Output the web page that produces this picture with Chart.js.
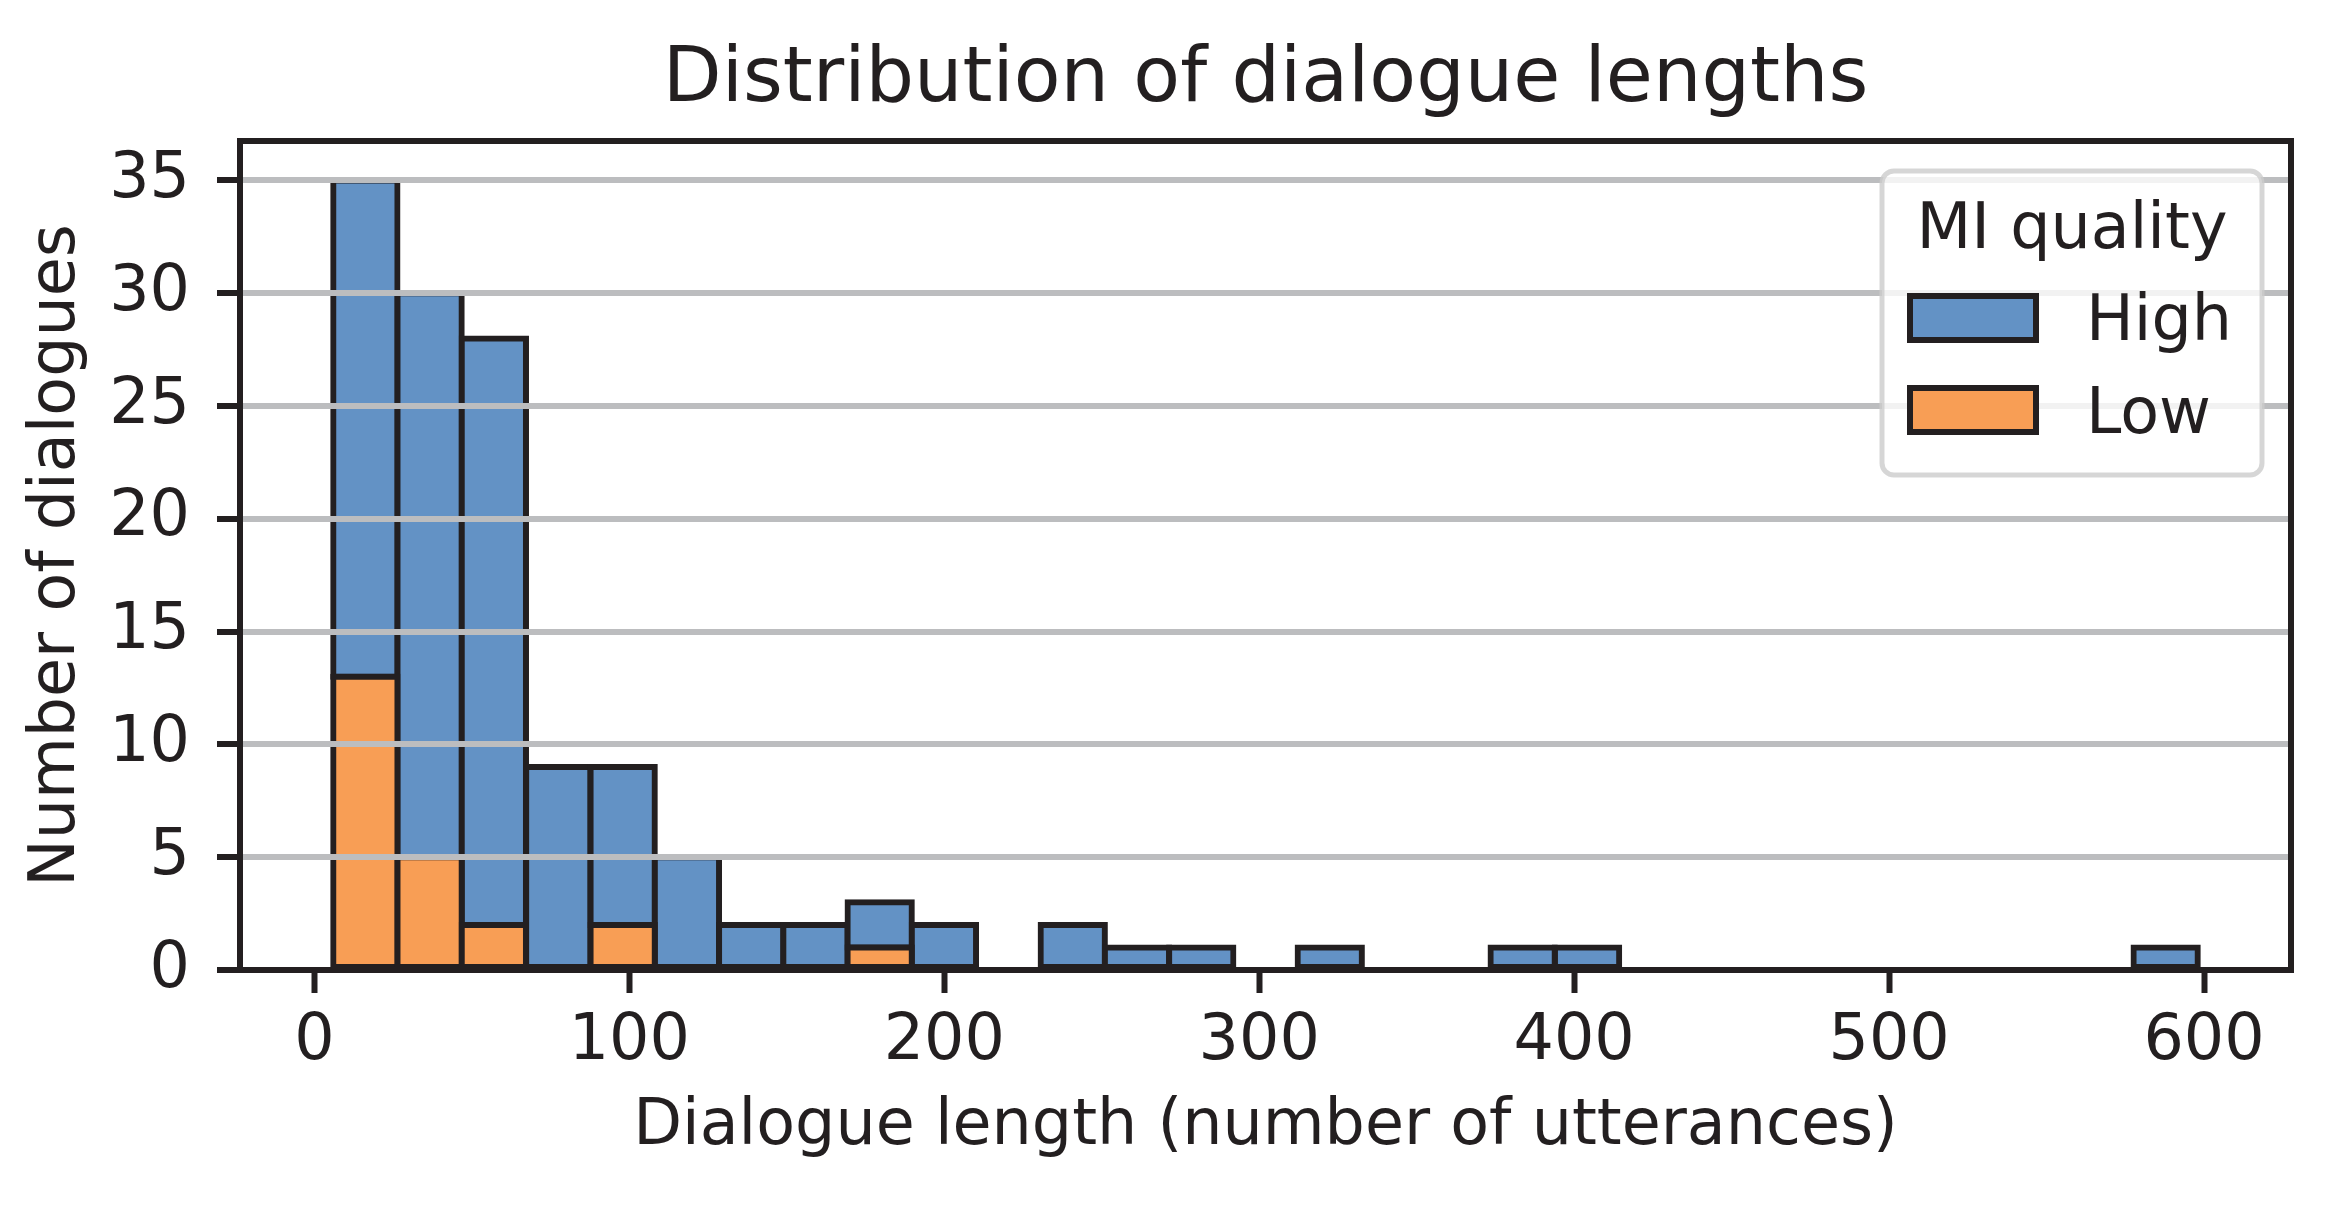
<!DOCTYPE html>
<html>
<head>
<meta charset="utf-8">
<script src="https://cdn.jsdelivr.net/npm/chart.js@4.4.1/dist/chart.umd.min.js"></script>
<style>
  html, body { margin: 0; padding: 0; background: #ffffff; }
  #wrap { width: 2335px; height: 1205px; position: relative; }
</style>
</head>
<body>
<div id="wrap"><canvas id="c"></canvas></div>
<script>
// ---- data ----
const binEdges = [6.0, 26.4, 46.8, 67.2, 87.7, 108.1, 128.5, 148.9, 169.3, 189.7, 210.1, 230.6, 251.0, 271.4, 291.8, 312.2, 332.6, 353.0, 373.4, 393.9, 414.3, 434.7, 455.1, 475.5, 495.9, 516.3, 536.8, 557.2, 577.6, 598.0];
const highCounts = [22, 25, 26, 9, 7, 5, 2, 2, 2, 2, 0, 2, 1, 1, 0, 1, 0, 0, 1, 1, 0, 0, 0, 0, 0, 0, 0, 0, 1];
const lowCounts  = [13, 5, 2, 0, 2, 0, 0, 0, 1, 0, 0, 0, 0, 0, 0, 0, 0, 0, 0, 0, 0, 0, 0, 0, 0, 0, 0, 0, 0];
const seriesNames = ['High', 'Low'];
const xTickValues = [0, 100, 200, 300, 400, 500, 600];
const yTickValues = [0, 5, 10, 15, 20, 25, 30, 35];
const titleText = 'Distribution of dialogue lengths';
const xLabel = 'Dialogue length (number of utterances)';
const yLabel = 'Number of dialogues';
const legendTitle = 'MI quality';

// ---- styles ----
const INK = '#231f20';
const BLUE = '#6392c5';
const ORANGE = '#f89e55';
const GRID = '#bcbdbf';
const FONT = "'DejaVu Sans', sans-serif";
const FS = 63.5;

const centers = binEdges.slice(0, -1).map((e, i) => (e + binEdges[i + 1]) / 2);
const dataMin = binEdges[0], dataMax = binEdges[binEdges.length - 1];
const margin = (dataMax - dataMin) * 0.05;
const yMax = 35 * 1.05;

const framePlugin = {
  id: 'frameAndLegend',
  afterDraw(chart) {
    const ctx = chart.ctx;
    const a = chart.chartArea;
    ctx.save();
    ctx.strokeStyle = INK;
    ctx.lineWidth = 6;
    ctx.lineJoin = 'miter';
    ctx.strokeRect(a.left, a.top, a.right - a.left, a.bottom - a.top);
    // legend
    const w = 380, h = 304;
    const fl = a.right - 29 - w, ft = a.top + 30;
    const r = 12;
    ctx.beginPath();
    ctx.moveTo(fl + r, ft);
    ctx.arcTo(fl + w, ft, fl + w, ft + h, r);
    ctx.arcTo(fl + w, ft + h, fl, ft + h, r);
    ctx.arcTo(fl, ft + h, fl, ft, r);
    ctx.arcTo(fl, ft, fl + w, ft, r);
    ctx.closePath();
    ctx.fillStyle = 'rgba(255,255,255,0.8)';
    ctx.fill();
    ctx.strokeStyle = 'rgba(204,204,204,0.8)';
    ctx.lineWidth = 5;
    ctx.stroke();
    ctx.fillStyle = INK;
    ctx.font = FS + 'px ' + FONT;
    ctx.textAlign = 'center';
    ctx.textBaseline = 'alphabetic';
    ctx.fillText(legendTitle, fl + 190, ft + 77);
    const ds = chart.data.datasets.slice().reverse();
    const rows = [ft + 125, ft + 217];
    ds.forEach((d, i) => {
      const y0 = rows[i];
      ctx.fillStyle = d.backgroundColor;
      ctx.fillRect(fl + 28, y0, 126, 44);
      ctx.strokeStyle = INK;
      ctx.lineWidth = 6;
      ctx.strokeRect(fl + 28, y0, 126, 44);
      ctx.fillStyle = INK;
      ctx.textAlign = 'left';
      ctx.fillText(d.label, fl + 204, y0 + 44 + (i === 0 ? 0 : 1));
    });
    ctx.restore();
  }
};

new Chart(document.getElementById('c'), {
  type: 'bar',
  data: {
    datasets: [
      {
        label: seriesNames[1],
        data: centers.map((c, i) => ({ x: c, y: lowCounts[i] })),
        backgroundColor: ORANGE,
        borderColor: INK,
        borderWidth: 6,
        borderSkipped: false,
        inflateAmount: 3,
        grouped: false,
        barPercentage: 1,
        categoryPercentage: 1,
        stack: 's'
      },
      {
        label: seriesNames[0],
        data: centers.map((c, i) => ({ x: c, y: highCounts[i] })),
        backgroundColor: BLUE,
        borderColor: INK,
        borderWidth: 6,
        borderSkipped: false,
        inflateAmount: 3,
        grouped: false,
        barPercentage: 1,
        categoryPercentage: 1,
        stack: 's'
      }
    ]
  },
  options: {
    responsive: true,
    maintainAspectRatio: false,
    animation: false,
    devicePixelRatio: 1,
    events: [],
    layout: { padding: { left: 0, right: 44, top: 0, bottom: 0 } },
    plugins: {
      legend: { display: false },
      tooltip: { enabled: false },
      title: {
        display: true,
        text: titleText,
        fullSize: false,
        color: INK,
        font: { family: FONT, size: 76.5, weight: 'normal', lineHeight: 1.2 },
        padding: { top: 35, bottom: 14.2 }
      }
    },
    scales: {
      x: {
        type: 'linear',
        offset: false,
        min: dataMin - margin,
        max: dataMax + margin,
        stacked: false,
        afterBuildTicks(scale) { scale.ticks = xTickValues.map(v => ({ value: v })); },
        afterFit(scale) { scale.height = 235; },
        ticks: {
          color: INK,
          font: { family: FONT, size: FS },
          padding: 11,
          maxRotation: 0,
          autoSkip: false
        },
        grid: {
          offset: false,
          drawOnChartArea: false,
          drawTicks: true,
          tickLength: 23,
          tickWidth: 6,
          tickColor: INK
        },
        border: { display: false },
        title: {
          display: true,
          text: xLabel,
          color: INK,
          font: { family: FONT, size: FS, lineHeight: 1.2 },
          padding: { top: 0, bottom: 39.5 }
        }
      },
      y: {
        type: 'linear',
        min: 0,
        max: yMax,
        stacked: true,
        afterBuildTicks(scale) { scale.ticks = yTickValues.map(v => ({ value: v })); },
        afterFit(scale) { scale.width = 240; },
        ticks: {
          color: INK,
          font: { family: FONT, size: FS },
          padding: 27,
          autoSkip: false
        },
        grid: {
          z: 1,
          color: GRID,
          lineWidth: 6,
          drawTicks: true,
          tickLength: 23,
          tickWidth: 6,
          tickColor: INK
        },
        border: { display: false },
        title: {
          display: true,
          text: yLabel,
          color: INK,
          font: { family: FONT, size: FS, lineHeight: 1.2 },
          padding: { top: 19.5, bottom: 0 }
        }
      }
    }
  },
  plugins: [framePlugin]
});
</script>
</body>
</html>
